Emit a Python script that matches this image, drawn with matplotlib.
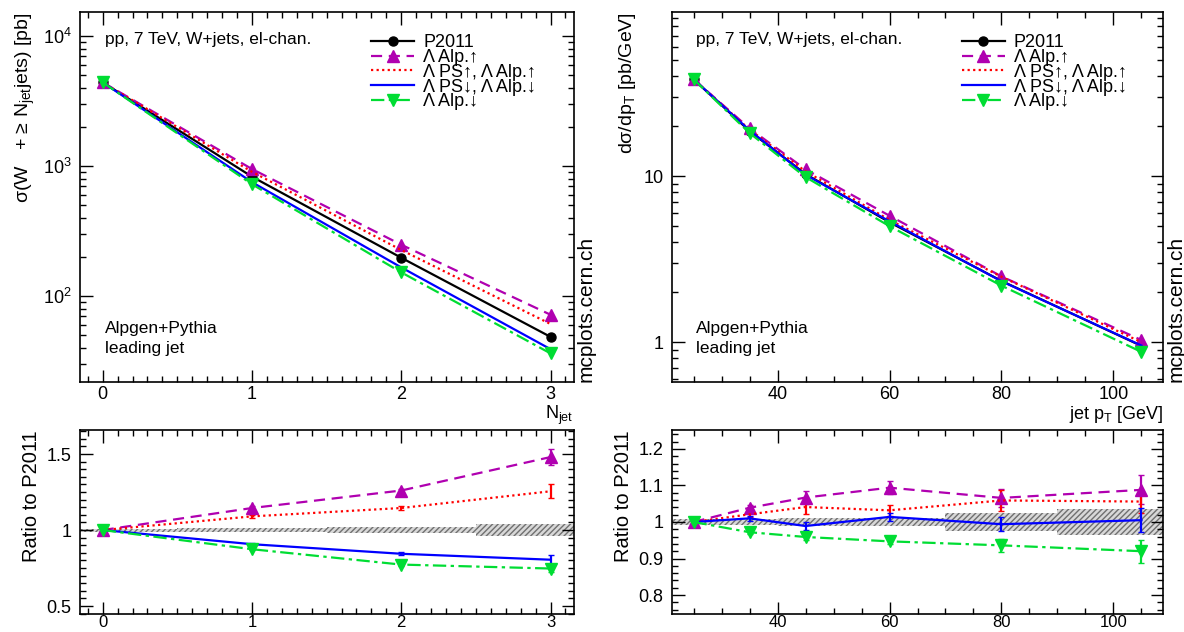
# W+jets (el-chan.) Alpgen+Pythia tunes: N_jet and leading-jet pT, with ratios to P2011

import matplotlib
matplotlib.use("Agg")
import matplotlib.pyplot as plt
from matplotlib.ticker import MultipleLocator, FixedLocator, LogLocator, NullFormatter

plt.rcParams['font.family'] = ['Liberation Sans', 'DejaVu Sans']
plt.rcParams['mathtext.fontset'] = 'custom'
plt.rcParams['mathtext.rm'] = 'Liberation Sans'
plt.rcParams['mathtext.it'] = 'Liberation Sans:italic'
plt.rcParams['hatch.linewidth'] = 1.0

# ---- N_jet distribution ----
njet = [0, 1, 2, 3]
njet_p2011 = [4400, 828, 197, 48.5]
njet_alp_up = [4400, 948, 248, 71.8]
njet_ps_up = [4400, 902, 226, 60.9]
njet_ps_dn = [4400, 751, 166, 39.0]
njet_alp_dn = [4400, 724, 152, 36.2]

njet_r_alp_up = [1.0, 1.145, 1.26, 1.48]
njet_r_ps_up = [1.0, 1.09, 1.145, 1.255]
njet_r_ps_dn = [1.0, 0.907, 0.844, 0.805]
njet_r_alp_dn = [1.0, 0.874, 0.773, 0.747]
njet_e_alp_up = [0.004, 0.01, 0.012, 0.05]
njet_e_ps_up = [0.003, 0.008, 0.015, 0.045]
njet_e_ps_dn = [0.003, 0.006, 0.01, 0.03]
njet_e_alp_dn = [0.003, 0.006, 0.01, 0.02]

njet_band_edges = [-0.5, 0.5, 1.5, 2.5, 3.5]
njet_band_half = [0.01, 0.012, 0.018, 0.037]

# ---- leading jet pT ----
pt = [25, 35, 45, 60, 80, 105]
pt_p2011 = [38.4, 18.7, 10.3, 5.28, 2.34, 0.95]
pt_alp_up = [38.4, 19.4, 11.0, 5.78, 2.49, 1.03]
pt_ps_up = [38.4, 19.1, 10.7, 5.45, 2.48, 1.00]
pt_ps_dn = [38.4, 18.9, 10.2, 5.35, 2.33, 0.955]
pt_alp_dn = [38.4, 18.2, 9.88, 5.00, 2.19, 0.874]

pt_r_alp_up = [1.0, 1.039, 1.067, 1.094, 1.066, 1.088]
pt_r_ps_up = [1.0, 1.021, 1.041, 1.032, 1.059, 1.056]
pt_r_ps_dn = [1.0, 1.01, 0.989, 1.014, 0.994, 1.005]
pt_r_alp_dn = [1.0, 0.972, 0.959, 0.947, 0.936, 0.92]
pt_e_alp_up = [0.003, 0.008, 0.017, 0.017, 0.025, 0.04]
pt_e_ps_up = [0.003, 0.006, 0.018, 0.015, 0.03, 0.03]
pt_e_ps_dn = [0.003, 0.006, 0.01, 0.012, 0.02, 0.032]
pt_e_alp_dn = [0.003, 0.005, 0.007, 0.008, 0.018, 0.032]

pt_band_edges = [20, 30, 40, 50, 70, 90, 120]
pt_band_half = [0.007, 0.008, 0.012, 0.012, 0.025, 0.035]

labels = ["P2011", "Λ Alp.↑", "Λ PS↑, Λ Alp.↑", "Λ PS↓, Λ Alp.↓", "Λ Alp.↓"]
styles = [
    dict(color="black", ls="-", marker="o", ms=6.5),
    dict(color="#B000B0", ls=(0, (5, 3)), marker="^", ms=8),
    dict(color="#FF0000", ls=(0, (1, 1.5)), marker=None, ms=0),
    dict(color="#0000FF", ls="-", marker=None, ms=0),
    dict(color="#00DD33", ls=(0, (6, 2, 1.5, 2)), marker="v", ms=8),
]

W, H = 1184, 632
def pos(x0, x1, y0, y1):
    return [x0 / W, 1 - y1 / H, (x1 - x0) / W, (y1 - y0) / H]

fig = plt.figure(figsize=(11.84, 6.32), dpi=100)
ax1 = fig.add_axes(pos(80, 573.5, 12, 381.5))
ax1r = fig.add_axes(pos(80, 573.5, 430, 614))
ax2 = fig.add_axes(pos(671.7, 1163.3, 12, 381.5))
ax2r = fig.add_axes(pos(671.7, 1163.3, 430, 614))

fs = 13

def style_axes(ax):
    ax.tick_params(which="both", direction="in", top=True, right=True, labelsize=fs, width=1.0)
    ax.tick_params(which="major", length=9)
    ax.tick_params(which="minor", length=4.5)
    ax.tick_params(axis="y", pad=6)
    ax.tick_params(axis="x", pad=3)
    for s in ax.spines.values():
        s.set_linewidth(1.2)

def band(ax, edges, half):
    xs, lo, hi = [], [], []
    for i in range(len(half)):
        xs += [edges[i], edges[i + 1]]
        lo += [1 - half[i]] * 2
        hi += [1 + half[i]] * 2
    ax.fill_between(xs, lo, hi, facecolor="#d8d8d8", edgecolor="#707070",
                    hatch="//////", linewidth=0, zorder=1)

# main panels
mains = [
    (ax1, njet, [njet_p2011, njet_alp_up, njet_ps_up, njet_ps_dn, njet_alp_dn]),
    (ax2, pt, [pt_p2011, pt_alp_up, pt_ps_up, pt_ps_dn, pt_alp_dn]),
]
for ax, x, series in mains:
    for y, st, lab in zip(series, styles, labels):
        ax.plot(x, y, color=st["color"], ls=st["ls"], lw=1.6, marker=st["marker"],
                ms=st["ms"], mec=st["color"], label=lab, zorder=3)
    ax.set_yscale("log")
    style_axes(ax)
    ax.text(0.05, 0.925, "pp, 7 TeV, W+jets, el-chan.", transform=ax.transAxes,
            fontsize=12.5, va="center")
    ax.text(0.05, 0.07, "Alpgen+Pythia\nleading jet", transform=ax.transAxes,
            fontsize=12.5, va="bottom", linespacing=1.35)
    ax.text(1.006, 0.0, "mcplots.cern.ch", transform=ax.transAxes, rotation=90,
            fontsize=15, va="bottom", ha="left")
    ax.legend(loc="upper left", bbox_to_anchor=(0.575, 0.96), frameon=False,
              fontsize=13, handlelength=2.4, labelspacing=-0.12, handletextpad=0.5,
              borderaxespad=0)

# ratio panels
ratios = [
    (ax1r, njet, [njet_r_alp_up, njet_r_ps_up, njet_r_ps_dn, njet_r_alp_dn],
     [njet_e_alp_up, njet_e_ps_up, njet_e_ps_dn, njet_e_alp_dn], njet_band_edges, njet_band_half),
    (ax2r, pt, [pt_r_alp_up, pt_r_ps_up, pt_r_ps_dn, pt_r_alp_dn],
     [pt_e_alp_up, pt_e_ps_up, pt_e_ps_dn, pt_e_alp_dn], pt_band_edges, pt_band_half),
]
for ax, x, rs, es, edges, half in ratios:
    band(ax, edges, half)
    for y, e, st in zip(rs, es, styles[1:]):
        ax.errorbar(x, y, yerr=e, color=st["color"], ls=st["ls"], lw=1.6,
                    marker=st["marker"], ms=st["ms"], mec=st["color"],
                    elinewidth=1.6, capsize=2, zorder=3)
    style_axes(ax)
    ax.tick_params(axis="x", pad=1, labelsize=12)
    ax.set_ylabel("Ratio to P2011", fontsize=14.5, loc="top")

# axis ranges and ticks: N_jet
ax1.set_xlim(-0.152, 3.154)
ax1r.set_xlim(-0.152, 3.154)
ax1.set_ylim(22, 15300)
for ax in (ax1, ax1r):
    ax.xaxis.set_major_locator(MultipleLocator(1))
    ax.xaxis.set_minor_locator(MultipleLocator(0.1))
ax1.yaxis.set_major_locator(LogLocator(base=10, numticks=10))
ax1.yaxis.set_minor_locator(LogLocator(base=10, subs=range(2, 10), numticks=20))
ax1.yaxis.set_minor_formatter(NullFormatter())
ax1r.set_ylim(0.448, 1.658)
ax1r.yaxis.set_major_locator(FixedLocator([0.5, 1.0, 1.5]))
ax1r.set_yticklabels(["0.5", "1", "1.5"])
ax1r.yaxis.set_minor_locator(MultipleLocator(0.05))
ax1.set_ylabel(r"σ(W   + ≥ N$_{\rm jet}$jets) [pb]", fontsize=14, loc="top")
ax1.set_xlabel(r"N$_{\rm jet}$", fontsize=fs, loc="right", labelpad=1)

# axis ranges and ticks: pT
ax2.set_xlim(21.1, 108.9)
ax2r.set_xlim(21.1, 108.9)
ax2.set_ylim(0.58, 97.5)
for ax in (ax2, ax2r):
    ax.xaxis.set_major_locator(FixedLocator([40, 60, 80, 100]))
    ax.xaxis.set_minor_locator(MultipleLocator(5))
ax2.yaxis.set_major_locator(FixedLocator([1, 10]))
ax2.set_yticklabels(["1", "10"])
ax2.yaxis.set_minor_locator(LogLocator(base=10, subs=range(2, 10), numticks=20))
ax2.yaxis.set_minor_formatter(NullFormatter())
ax2r.set_ylim(0.748, 1.252)
ax2r.yaxis.set_major_locator(FixedLocator([0.8, 0.9, 1.0, 1.1, 1.2]))
ax2r.set_yticklabels(["0.8", "0.9", "1", "1.1", "1.2"])
ax2r.yaxis.set_minor_locator(MultipleLocator(0.02))
ax2.set_ylabel(r"dσ/dp$_{\rm T}$ [pb/GeV]", fontsize=14, loc="top")
ax2.set_xlabel(r"jet p$_{\rm T}$ [GeV]", fontsize=fs, loc="right", labelpad=1)

fig.savefig("out.png", dpi=100)
